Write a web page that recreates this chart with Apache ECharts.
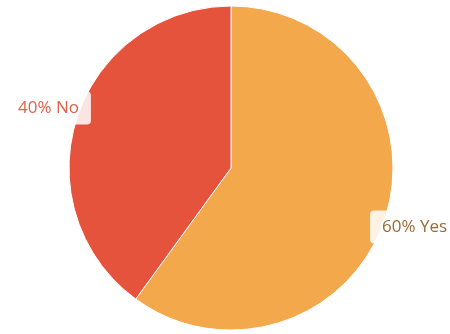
<!DOCTYPE html>
<html><head><meta charset="utf-8">
<script src="https://cdn.jsdelivr.net/npm/echarts@6/dist/echarts.min.js"></script>
<style>html,body{margin:0;padding:0;background:#fff}#c{width:450px;height:334px}</style>
</head><body><div id="c"></div>
<script>
const categories = ['Yes', 'No'];
const values = [60, 40];
const colors = ['#F2A84B', '#E5533D'];
const labelColors = ['#9C6B35', '#E0604A'];

const chart = echarts.init(document.getElementById('c'), null, {renderer: 'canvas'});
chart.setOption({
  animation: false,
  series: [{
    type: 'pie',
    center: [231, 168],
    radius: [0, 162],
    startAngle: 90,
    clockwise: true,
    avoidLabelOverlap: false,
    itemStyle: {borderColor: '#fff', borderWidth: 1},
    labelLine: {show: false, length: 0, length2: 0},
    labelLayout: p => ({dy: p.dataIndex === 0 ? 9 : -10, dx: p.dataIndex === 0 ? 0 : -1}),
    data: categories.map((c, i) => ({
      name: c, value: values[i],
      itemStyle: {color: colors[i]},
      label: {color: labelColors[i]}
    })),
    label: {
      show: true,
      position: 'outside',
      formatter: p => p.value + '% ' + p.name,
      fontFamily: 'Open Sans',
      fontSize: 17,
      backgroundColor: 'rgba(255,255,255,0.85)',
      borderRadius: 4,
      padding: [8, 12, 8, 12],
      distanceToLabelLine: -15
    }
  }]
});
</script></body></html>
